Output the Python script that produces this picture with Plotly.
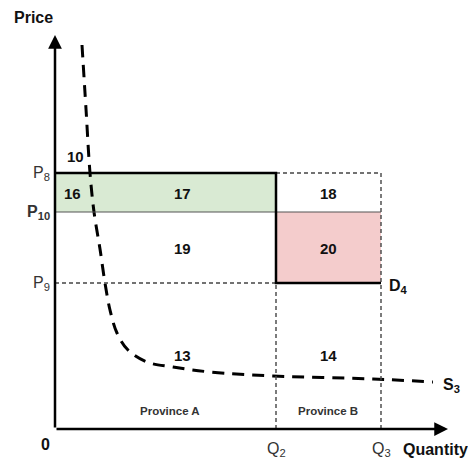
import plotly.graph_objects as go

# ---- data (arbitrary quantity / price units) ----
q_ticks = [221, 326]             # Q2, Q3
q_labels = ["Q<sub>2</sub>", "Q<sub>3</sub>"]
p_ticks = [256, 217, 146]        # P8, P10, P9
p_labels = ["P<sub>8</sub>", "<b>P<sub>10</sub></b>", "P<sub>9</sub>"]

supply_q = [27, 31, 35, 39, 45, 50, 55, 62, 73, 92, 118, 155, 218, 318, 378]
supply_p = [384, 320, 256, 217, 180, 146, 119, 96, 79, 67, 62, 57, 53, 50, 47]

area_labels = ["10", "16", "17", "18", "19", "20", "13", "14"]
area_q = [20, 17, 127, 273, 127, 273, 127, 273]
area_p = [273, 236, 236, 236, 181, 181, 74, 74]

province_labels = ["Province A", "Province B"]
province_q = [115, 273]
province_p = [18, 18]

x_max, y_max = 393, 394

FONT = "Liberation Sans, Arial, sans-serif"
Q2, Q3 = q_ticks
P8, P10, P9 = p_ticks

fig = go.Figure()

shapes = []
# filled areas
shapes.append(dict(type="rect", x0=0, x1=Q2, y0=P10, y1=P8, fillcolor="#d9ead3",
                   line=dict(width=0), layer="below"))
shapes.append(dict(type="rect", x0=Q2, x1=Q3, y0=P9, y1=P10, fillcolor="#f4cccc",
                   line=dict(width=0), layer="below"))
# thin dashed guide lines
dash_style = dict(color="#444", width=1.4, dash="4px,3px")
shapes.append(dict(type="line", x0=0, x1=Q2, y0=P9, y1=P9, line=dash_style))
shapes.append(dict(type="line", x0=Q2, x1=Q3, y0=P8, y1=P8, line=dash_style))
shapes.append(dict(type="line", x0=Q3, x1=Q3, y0=0, y1=P8, line=dash_style))
shapes.append(dict(type="line", x0=Q2, x1=Q2, y0=0, y1=P9, line=dash_style))
# P10 thin solid line
shapes.append(dict(type="line", x0=0, x1=Q3, y0=P10, y1=P10, line=dict(color="#555", width=1.2)))
# D4 thick kinked line
shapes.append(dict(type="path", path=f"M 0 {P8} L {Q2} {P8} L {Q2} {P9} L {Q3} {P9}",
                   line=dict(color="black", width=2.5)))

fig.add_trace(go.Scatter(x=supply_q, y=supply_p, mode="lines",
                         line=dict(color="black", width=3, dash="12px,8px", shape="spline"),
                         hoverinfo="skip", showlegend=False))

ann = []
# axes with arrows
ann.append(dict(x=x_max, y=0, ax=0, ay=0, xref="x", yref="y", axref="x", ayref="y",
                showarrow=True, arrowhead=2, arrowsize=1.1, arrowwidth=2.5, arrowcolor="black", text=""))
ann.append(dict(x=0, y=y_max, ax=0, ay=0, xref="x", yref="y", axref="x", ayref="y",
                showarrow=True, arrowhead=2, arrowsize=1.1, arrowwidth=2.5, arrowcolor="black", text=""))

def txt(x, y, t, size=13, xanchor="center", color="#111"):
    ann.append(dict(x=x, y=y, text=t, showarrow=False, xanchor=xanchor, yanchor="middle",
                    font=dict(family=FONT, size=size, color=color)))

txt(-22, 412, "<b>Price</b>", 16)
txt(-10, -15, "<b>0</b>", 16)
for q, l in zip(q_ticks, q_labels):
    txt(q, -20, l, 16, color="#333")
txt(415, -20, "<b>Quantity</b>", 16, xanchor="right")
for p, l in zip(p_ticks, p_labels):
    txt(-3, p, l, 16, xanchor="right", color="#333")
for q, p, l in zip(area_q, area_p, area_labels):
    txt(q, p, f"<b>{l}</b>", 15)
for q, p, l in zip(province_q, province_p, province_labels):
    txt(q, p, f"<b>{l}</b>", 11.5, color="#333")
txt(332, P9 - 3, "<b>D<sub>4</sub></b>", 16, xanchor="left")
txt(386, 44, "<b>S<sub>3</sub></b>", 16, xanchor="left")

# The page body has an 8px margin, so the figure is drawn from (8, 8);
# size and ranges compensate so the chart sits where the reference has it.
fig.update_layout(
    width=468, height=452, margin=dict(l=0, r=0, t=0, b=0),
    paper_bgcolor="white", plot_bgcolor="white",
    shapes=shapes, annotations=ann, showlegend=False,
    xaxis=dict(range=[-47, 421], visible=False, fixedrange=True),
    yaxis=dict(range=[-31, 421], visible=False, fixedrange=True),
)

fig.write_html("out.html")
